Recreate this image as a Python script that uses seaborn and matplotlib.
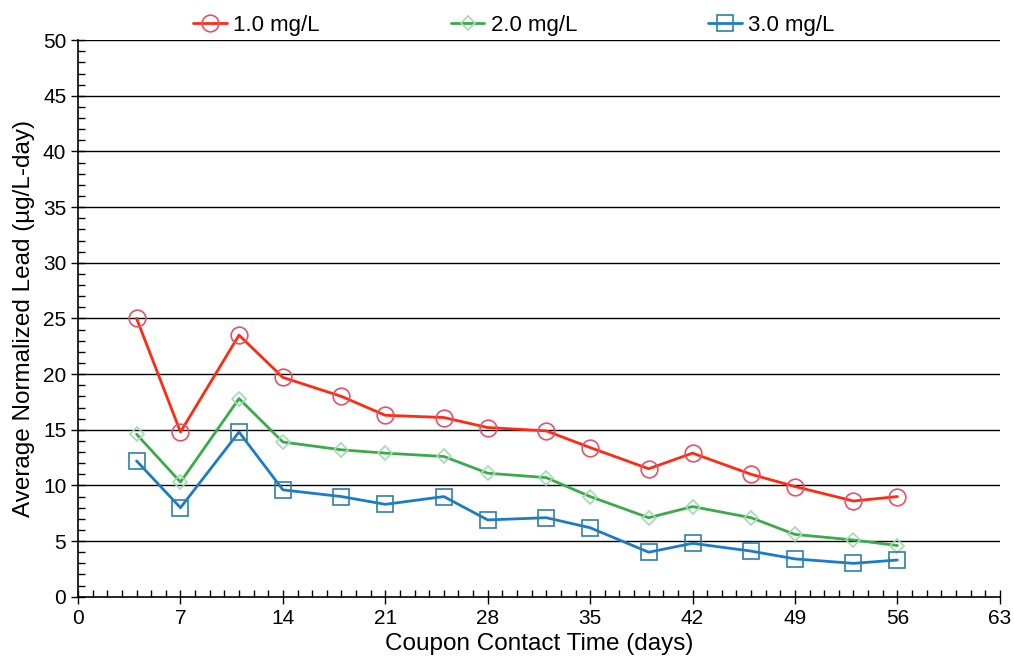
import pandas as pd
import numpy as np
import seaborn as sns
import matplotlib.pyplot as plt
from matplotlib.ticker import MultipleLocator

# data
days = [4, 7, 11, 14, 18, 21, 25, 28, 32, 35, 39, 42, 46, 49, 53, 56]
lead_1mg = [25.0, 14.8, 23.5, 19.7, 18.0, 16.3, 16.1, 15.2, 14.9, 13.4, 11.5, 12.9, 11.0, 9.9, 8.6, 9.0]
lead_2mg = [14.6, 10.3, 17.8, 13.9, 13.2, 12.9, 12.6, 11.1, 10.7, 9.0, 7.1, 8.1, 7.1, 5.6, 5.1, 4.6]
lead_3mg = [12.2, 8.0, 14.8, 9.6, 9.0, 8.3, 9.0, 6.9, 7.1, 6.2, 4.0, 4.8, 4.1, 3.4, 3.0, 3.3]
series_names = ["1.0 mg/L", "2.0 mg/L", "3.0 mg/L"]

df = pd.DataFrame({
    "day": days * 3,
    "lead": lead_1mg + lead_2mg + lead_3mg,
    "dose": np.repeat(series_names, len(days)),
})

sns.set_style("white")
plt.rcParams["font.family"] = ["Liberation Sans", "DejaVu Sans"]
plt.rcParams.update({"text.color": "black", "axes.labelcolor": "black",
                     "xtick.color": "black", "ytick.color": "black"})

line_colors = {"1.0 mg/L": "#ff2a10", "2.0 mg/L": "#3aaa4a", "3.0 mg/L": "#1a7cc6"}
edge_colors = {"1.0 mg/L": "#e8506a", "2.0 mg/L": "#9fdcb0", "3.0 mg/L": "#2f7fa8"}
markers = {"1.0 mg/L": "o", "2.0 mg/L": "D", "3.0 mg/L": "s"}
msizes = {"1.0 mg/L": 12, "2.0 mg/L": 7.5, "3.0 mg/L": 12}

fig, ax = plt.subplots(figsize=(10.14, 6.69), dpi=100)
fig.subplots_adjust(left=0.077, right=0.986, bottom=0.108, top=0.940)

# horizontal grid lines
for yv in range(5, 51, 5):
    ax.axhline(yv, color="black", lw=1.0, zorder=1)

for name in series_names:
    sub = df[df["dose"] == name]
    sns.lineplot(data=sub, x="day", y="lead", ax=ax, color=line_colors[name],
                 marker=markers[name], markersize=msizes[name], mfc="none",
                 mec=edge_colors[name], mew=1.2, lw=2.0, label=name, zorder=3)

ax.set_xlim(0, 63)
ax.set_ylim(0, 50)
ax.xaxis.set_major_locator(MultipleLocator(7))
ax.xaxis.set_minor_locator(MultipleLocator(1))
ax.yaxis.set_major_locator(MultipleLocator(5))
ax.yaxis.set_minor_locator(MultipleLocator(1))
ax.tick_params(axis="both", which="major", direction="inout", length=10, width=1,
               labelsize=15, color="black", bottom=True, left=True)
ax.tick_params(axis="x", which="minor", direction="in", length=5, width=1, bottom=True)
ax.tick_params(axis="y", which="minor", direction="in", length=5, width=1, left=True)

for side in ["top", "right"]:
    ax.spines[side].set_visible(False)
for side in ["left", "bottom"]:
    ax.spines[side].set_color("black")
    ax.spines[side].set_linewidth(1.2)

ax.set_xlabel("Coupon Contact Time (days)", fontsize=17.5, labelpad=4)
ax.set_ylabel("Average Normalized Lead (µg/L-day)", fontsize=17.5, labelpad=6)

ax.legend(loc="lower left", bbox_to_anchor=(0.125, 1.008), ncol=3, frameon=False,
          fontsize=16, handlelength=1.5, columnspacing=5.9, handletextpad=0.3,
          borderpad=0, borderaxespad=0)

plt.savefig("out.png", dpi=100)
